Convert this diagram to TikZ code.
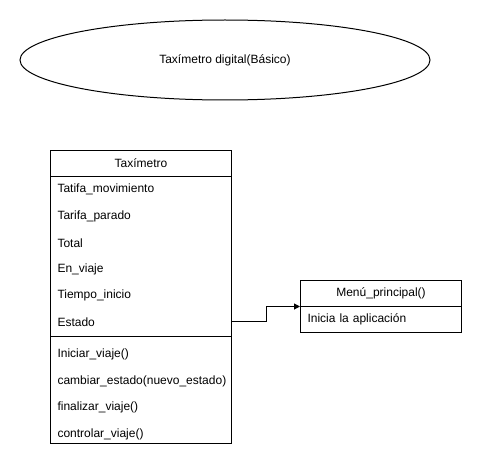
\documentclass[tikz,border=0pt]{standalone}
\usepackage{fontspec}
\setmainfont{Liberation Sans}
\usetikzlibrary{shapes.geometric,arrows.meta}
\begin{document}
\begin{tikzpicture}[x=1pt,y=-1pt,line width=1pt,
  font=\fontsize{12pt}{14pt}\selectfont,
  row/.style={inner xsep=7pt,inner ysep=0pt,text width=167pt,align=left,minimum height=26.5pt,anchor=north west},
  mrow/.style={inner xsep=7pt,inner ysep=0pt,text width=147pt,align=left,minimum height=26pt,anchor=north west},
  hdr/.style={draw,inner sep=0pt,minimum height=26pt,anchor=north west},
  conn/.style={-{Triangle[length=6pt,width=6pt]}}]
\useasboundingbox (0,0) rectangle (481,468);
\node[draw,ellipse,minimum width=410pt,minimum height=80pt] (title) at (225,60) {Taxímetro digital(Básico)};
% Taximetro class
\node[draw,minimum width=181pt,minimum height=293pt,anchor=north west,inner sep=0pt] (tax) at (50,150) {};
\node[hdr,minimum width=181pt] (taxh) at (50,150) {Taxímetro};
\node[row] (a1) at (50,176) {Tatifa\_movimiento};
\node[row] (a2) at (50,202.5) {Tarifa\_parado};
\node[row] (a3) at (50,229) {Total};
\node[row] (a4) at (50,255.5) {En\_viaje};
\node[row] (a5) at (50,282) {Tiempo\_inicio};
\node[row] (estado) at (50,308) {Estado};
\draw (50,336) -- (231,336);
\node[row] (m1) at (50,341) {Iniciar\_viaje()};
\node[row] (m2) at (50,367.5) {cambiar\_estado(nuevo\_estado)};
\node[row] (m3) at (50,394) {finalizar\_viaje()};
\node[row] (m4) at (50,420.5) {controlar\_viaje()};
% Menu class
\node[draw,minimum width=161pt,minimum height=52pt,anchor=north west,inner sep=0pt] (menu) at (300,280) {};
\node[hdr,minimum width=161pt] (menuh) at (300,280) {Menú\_principal()};
\node[mrow] (menub) at (300,306) {Inicia la aplicación};
% connector
\draw[conn] (estado.east) -- ++(34,0) |- (menu.west);
\end{tikzpicture}
\end{document}
